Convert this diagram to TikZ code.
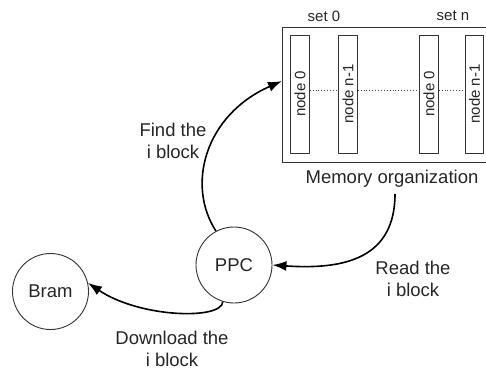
\documentclass[tikz,border=0pt]{standalone}
\usepackage{fontspec}
\setmainfont{Liberation Sans}
\usetikzlibrary{arrows.meta}
\begin{document}
\begin{tikzpicture}[x=1pt,y=-1pt,
  bigtext/.style={font=\fontsize{18.5}{22}\selectfont, align=center, inner sep=0pt, text=black!85},
  smalltext/.style={font=\fontsize{15}{17}\selectfont, inner sep=0pt, text=black!85},
  unit/.style={draw=black!80, line width=0.9pt, circle, minimum size=76pt, inner sep=0pt,
    font=\fontsize{18.5}{22}\selectfont, text=black!85},
  slot/.style={draw=black!80, line width=0.9pt, minimum width=18.5pt, minimum height=118pt,
    inner sep=0pt, font=\fontsize{15}{17}\selectfont, text=black!85},
  link/.style={draw=black, line width=1.6pt, -{Latex[length=14pt,width=10pt]}},
  chain/.style={draw=black!70, line width=0.9pt, dotted}]
\useasboundingbox (0,0) rectangle (486,373);

% memory block (its right side runs past the page edge)
\draw[draw=black!80, line width=0.9pt] (495,27) -- (282,27) -- (282,162) -- (495,162);
\node[slot] (s0a) at (300,94) {\rotatebox{90}{node 0}};
\node[slot] (s0b) at (348,94) {\rotatebox{90}{node n-1}};
\node[slot] (sna) at (429,94) {\rotatebox{90}{node 0}};
\node[slot] (snb) at (474.5,94) {\rotatebox{90}{node n-1}};
\draw[chain] (s0a.east |- 0,90) -- (s0b.west |- 0,90);
\draw[chain] (s0b.east |- 0,90) -- (sna.west |- 0,90);
\draw[chain] (sna.east |- 0,90) -- (snb.west |- 0,90);
\node[smalltext] (set0) at (324,16) {set 0};
\node[smalltext] (setn) at (453,16) {set n};
\node[bigtext] (memlabel) at (392,179) {Memory organization};
\coordinate (memin) at (282,81);

% processing units
\node[unit] (ppc) at (234,265) {PPC};
\node[unit] (bram) at (50.5,291.5) {Bram};

% transfers
\draw[link] (ppc.118) .. controls (186,185) and (205,115) .. (memin);
\draw[link] (memlabel.south -| 395,0) ++(0,6) .. controls (395,258) and (345,270) .. (ppc.east);
\draw[link] (ppc.253) .. controls (222,320) and (140,318) .. (bram.13);

\node[bigtext] (findlbl) at (173,141) {Find the\\i block};
\node[bigtext] (readlbl) at (413,279) {Read the\\i block};
\node[bigtext] (downlbl) at (172,349) {Download the\\i block};
\end{tikzpicture}
\end{document}
